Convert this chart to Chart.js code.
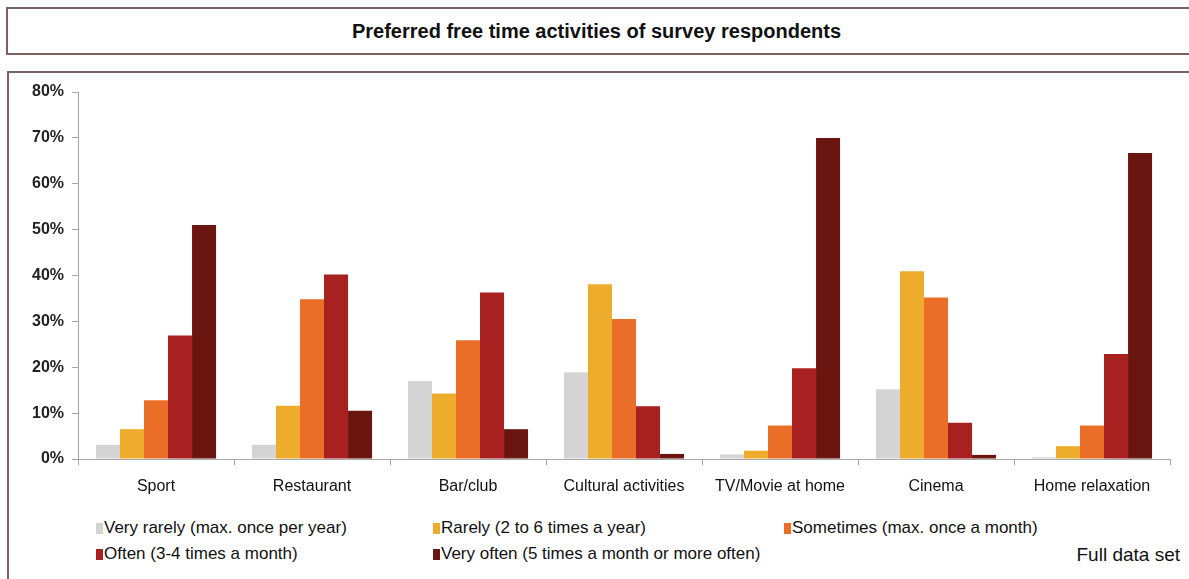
<!DOCTYPE html>
<html>
<head>
<meta charset="utf-8">
<script src="https://cdn.jsdelivr.net/npm/chart.js@4.4.1/dist/chart.umd.min.js"></script>
<style>
    body { margin: 0; width: 1189px; height: 579px; background: #fff; position: relative; overflow: hidden;
           font-family: "Liberation Sans Narrow", "Arial Narrow", "Liberation Sans", Arial, sans-serif; color: #111; }
    .title-box { position: absolute; left: 6px; top: 7px; width: 1200px; height: 44px;
                 border: 2px solid #7d6060; box-sizing: content-box; }
    .title-box h1 { margin: 0; font-size: 20px; font-weight: bold; line-height: 44px; text-align: center;
                    width: 1189px; margin-left: -6px; }
    .chart-box { position: absolute; left: 7px; top: 71px; width: 1200px; height: 520px; border: 2px solid #7d6060; }
    #chart-wrap { position: absolute; left: 8px; top: 72px; width: 1181px; height: 440px; }
    #legend { position: absolute; left: 96px; top: 518px; font-size: 17px; }
    .leg-item { position: absolute; white-space: nowrap; display: flex; align-items: center; }
    .leg-item i { display: inline-block; width: 7px; height: 11px; margin-right: 1px; }
    .note { position: absolute; right: 9px; top: 544px; font-size: 19px; }
</style>
</head>
<body>
<div class="title-box"><h1>Preferred free time activities of survey respondents</h1></div>
<div class="chart-box"></div>
<div id="chart-wrap"><canvas id="activities-chart"></canvas></div>
<div id="legend"></div>
<div class="note">Full data set</div>

<script>
// Datos de la encuesta (porcentajes)
const activities = ['Sport', 'Restaurant', 'Bar/club', 'Cultural activities', 'TV/Movie at home', 'Cinema', 'Home relaxation'];
const seriesNames = [
    'Very rarely (max. once per year)',
    'Rarely (2 to 6 times a year)',
    'Sometimes (max. once a month)',
    'Often (3-4 times a month)',
    'Very often (5 times a month or more often)'
];
const veryRarely = [3.1, 3.1, 17.0, 18.9, 1.0, 15.2, 0.4];
const rarely     = [6.5, 11.6, 14.3, 38.1, 1.8, 40.9, 2.8];
const sometimes  = [12.8, 34.8, 25.9, 30.5, 7.3, 35.2, 7.3];
const often      = [26.9, 40.2, 36.3, 11.5, 19.8, 7.9, 22.9];
const veryOften  = [51.0, 10.5, 6.5, 1.1, 70.0, 0.9, 66.7];
const seriesColors = ['#d4d4d4', '#eeac2c', '#eb6e28', '#a8201f', '#6a1510'];
const yTicks = [0, 10, 20, 30, 40, 50, 60, 70, 80];

const seriesValues = [veryRarely, rarely, sometimes, often, veryOften];

const datasets = seriesNames.map((name, i) => ({
    label: name,
    data: seriesValues[i],
    backgroundColor: seriesColors[i],
    borderWidth: 0,
    categoryPercentage: 0.77,
    barPercentage: 1.0
}));

const axisColor = '#a6a6a6';

new Chart(document.getElementById('activities-chart'), {
    type: 'bar',
    data: { labels: activities, datasets },
    options: {
        responsive: true,
        maintainAspectRatio: false,
        animation: false,
        layout: { padding: { top: 20, right: 19, left: 0, bottom: 0 } },
        plugins: { legend: { display: false }, tooltip: { enabled: false } },
        scales: {
            x: {
                grid: { drawOnChartArea: false, tickLength: 6, color: axisColor, offset: true },
                border: { color: axisColor, width: 1 },
                ticks: { color: '#111', padding: 12, font: { family: 'Liberation Sans, Arial, sans-serif', size: 16 } },
                afterFit: scale => { scale.height = 53; }
            },
            y: {
                min: 0,
                max: 80,
                afterBuildTicks: scale => { scale.ticks = yTicks.map(v => ({ value: v })); },
                grid: { drawOnChartArea: false, tickLength: 6, color: axisColor },
                border: { color: axisColor, width: 1 },
                ticks: {
                    color: '#222',
                    padding: 8,
                    font: { family: 'Liberation Sans, Arial, sans-serif', size: 16, weight: 'bold' },
                    callback: v => v + '%'
                },
                afterFit: scale => { scale.width = 70; }
            }
        }
    }
});

// Leyenda en tres columnas
const legendCols = [0, 337, 688];
const legendRows = [0, 26];
const legend = document.getElementById('legend');
seriesNames.forEach((name, i) => {
    const item = document.createElement('div');
    item.className = 'leg-item';
    item.style.left = legendCols[i % 3] + 'px';
    item.style.top = legendRows[Math.floor(i / 3)] + 'px';
    item.innerHTML = `<i style="background:${seriesColors[i]}"></i>${name}`;
    legend.appendChild(item);
});
</script>
</body>
</html>
